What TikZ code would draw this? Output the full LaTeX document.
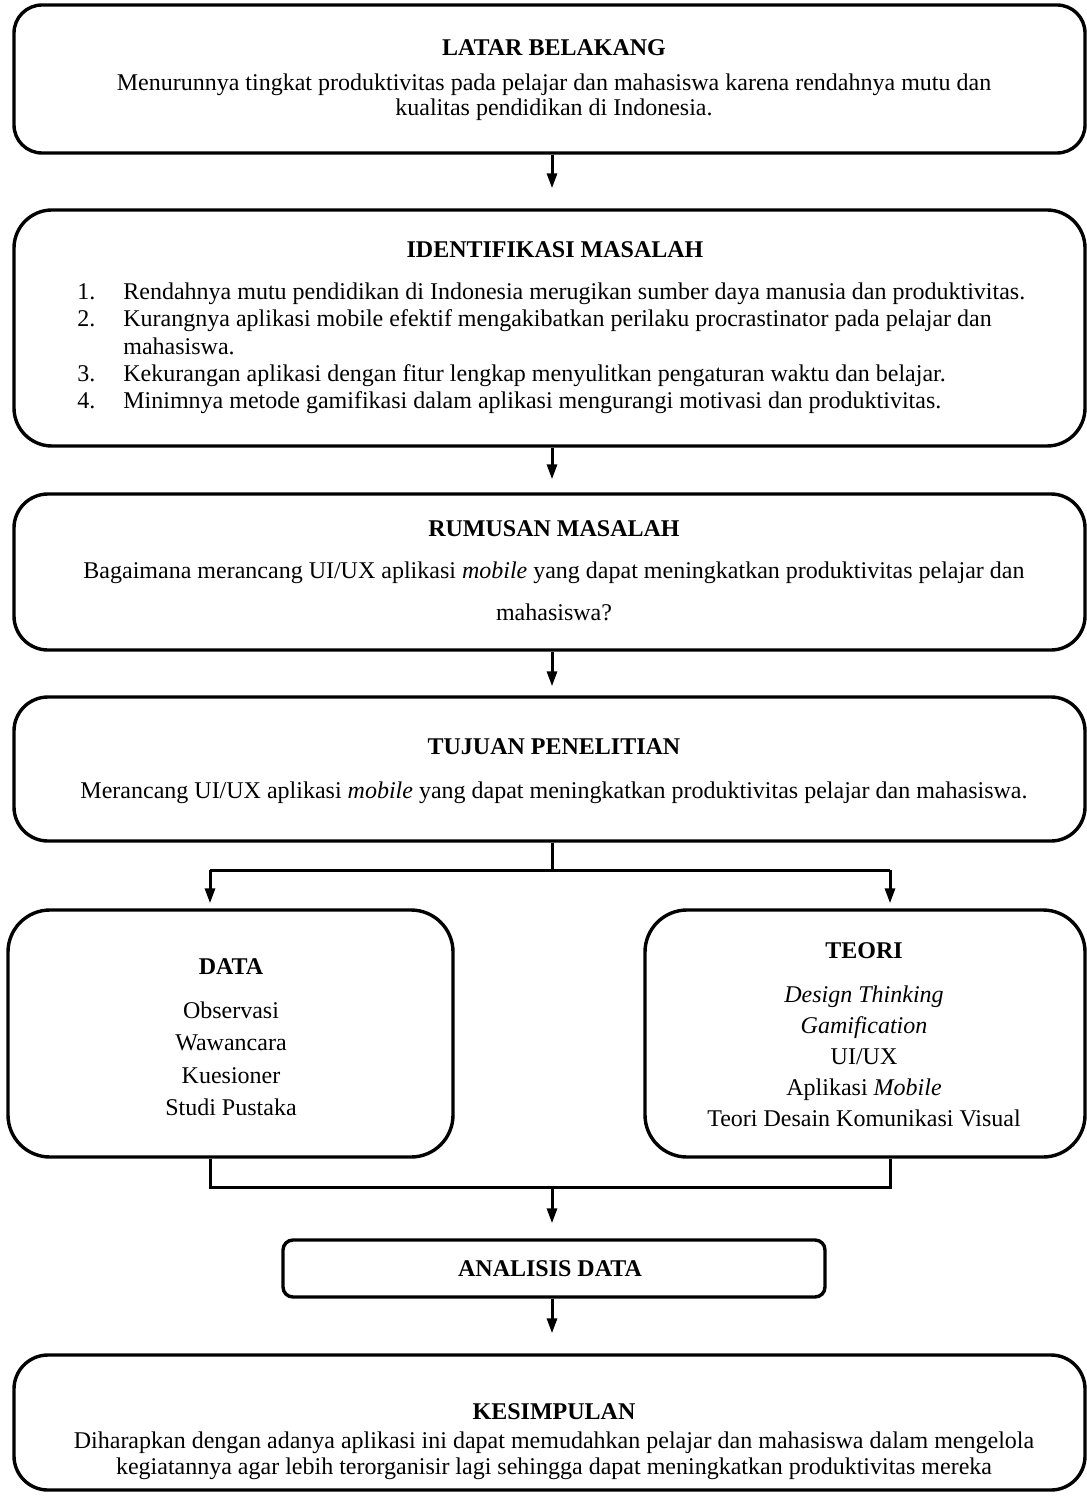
\documentclass[tikz,border=0pt]{standalone}
\usepackage{fontspec}
\setmainfont{Liberation Serif}
\usetikzlibrary{arrows.meta,positioning,fit}

\tikzset{
  box/.style={draw, line width=1.7pt, rounded corners=#1, inner sep=0pt},
  box/.default=16pt,
  txt/.style={align=center, inner sep=0pt},
  flow/.style={line width=1.5pt, -{Triangle[length=7.5pt,width=5pt]}},
  link/.style={line width=1.5pt},
}

\begin{document}
\begin{tikzpicture}[x=0.5pt,y=-0.5pt]
    \useasboundingbox (0,0) rectangle (1086,1497);
    %% boxes
    \node[box=14pt, fit={(14,5) (1085,153)}] (latar) {};
    \node[box=19pt, fit={(14,210) (1085,446)}] (ident) {};
    \node[box=17pt, fit={(14,494) (1085,650)}] (rumusan) {};
    \node[box=17pt, fit={(14,697) (1085,841)}] (tujuan) {};
    \node[box=21pt, fit={(8,910) (453,1157)}] (data) {};
    \node[box=21pt, fit={(645,910) (1085,1157)}] (teori) {};
    \node[box=5pt, fit={(283,1240) (825,1297)}] (analisis) {};
    \node[box=17pt, fit={(14,1355) (1085,1490)}] (kesimpulan) {};
    %% latar belakang
    \node[txt, font=\fontsize{12}{12.5}\selectfont] (latar-text) at (554,80)
        {\textbf{LATAR BELAKANG}\\[5pt]
         Menurunnya tingkat produktivitas pada pelajar dan mahasiswa karena rendahnya mutu dan\\
         kualitas pendidikan di Indonesia.};
    %% identifikasi masalah
    \node[inner sep=0pt, font=\fontsize{12}{12}\selectfont\bfseries] (ident-title) at (555,250) {IDENTIFIKASI MASALAH};
    \node[anchor=north west, inner sep=0pt, font=\fontsize{12}{13.65}\selectfont] (ident-list) at (77,280)
        {\begin{tabular}{@{}p{23pt}@{}l@{}}
         1. & Rendahnya mutu pendidikan di Indonesia merugikan sumber daya manusia dan produktivitas.\\
         2. & Kurangnya aplikasi mobile efektif mengakibatkan perilaku procrastinator pada pelajar dan\\
            & mahasiswa.\\
         3. & Kekurangan aplikasi dengan fitur lengkap menyulitkan pengaturan waktu dan belajar.\\
         4. & Minimnya metode gamifikasi dalam aplikasi mengurangi motivasi dan produktivitas.
         \end{tabular}};
    %% rumusan masalah
    \node[txt, font=\fontsize{12}{21}\selectfont] (rumusan-text) at (554,571)
        {\textbf{RUMUSAN MASALAH}\\
         Bagaimana merancang UI/UX aplikasi \textit{mobile} yang dapat meningkatkan produktivitas pelajar dan\\
         mahasiswa?};
    %% tujuan penelitian
    \node[txt, font=\fontsize{12}{22}\selectfont] (tujuan-text) at (554,771)
        {\textbf{TUJUAN PENELITIAN}\\
         Merancang UI/UX aplikasi \textit{mobile} yang dapat meningkatkan produktivitas pelajar dan mahasiswa.};
    %% data dan teori
    \node[txt, font=\fontsize{12}{16.25}\selectfont] (data-text) at (231,1037)
        {\textbf{DATA}\\[5.75pt]
         Observasi\\ Wawancara\\ Kuesioner\\ Studi Pustaka};
    \node[txt, font=\fontsize{12}{15.5}\selectfont] (teori-text) at (864,1035)
        {\textbf{TEORI}\\[6.5pt]
         \textit{Design Thinking}\\ \textit{Gamification}\\ UI/UX\\
         Aplikasi \textit{Mobile}\\ Teori Desain Komunikasi Visual};
    %% analisis data
    \node[inner sep=0pt, font=\fontsize{12}{12}\selectfont\bfseries] (analisis-text) at (550,1269) {ANALISIS DATA};
    %% kesimpulan
    \node[txt, font=\fontsize{12}{13}\selectfont] (kesimpulan-text) at (554,1442)
        {\textbf{KESIMPULAN}\\[1.5pt]
         Diharapkan dengan adanya aplikasi ini dapat memudahkan pelajar dan mahasiswa dalam mengelola\\
         kegiatannya agar lebih terorganisir lagi sehingga dapat meningkatkan produktivitas mereka};
    %% arrows
    \coordinate (spine) at (552,0);
    \coordinate (split) at (552,870);
    \coordinate (split-l) at (210,870);
    \coordinate (split-r) at (890,870);
    \coordinate (join) at (552,1187);
    \coordinate (join-l) at (210,1187);
    \coordinate (join-r) at (890,1187);
    \draw[flow, shorten >=10pt] (latar.south -| spine) -- (ident.north -| spine);
    \draw[flow, shorten >=6.5pt] (ident.south -| spine) -- (rumusan.north -| spine);
    \draw[flow, shorten >=4.5pt] (rumusan.south -| spine) -- (tujuan.north -| spine);
    \draw[link] (tujuan.south -| spine) -- (split);
    \draw[link] (split-l) -- (split-r);
    \draw[flow, shorten >=2.5pt] (split-l) -- (split-l |- data.north);
    \draw[flow, shorten >=2.5pt] (split-r) -- (split-r |- teori.north);
    \draw[link] (split-l |- data.south) -- (join-l) -- (join-r) -- (split-r |- teori.south);
    \draw[flow, shorten >=7.5pt] (join) -- (join |- analisis.north);
    \draw[flow, shorten >=10pt] (analisis.south -| spine) -- (kesimpulan.north -| spine);
\end{tikzpicture}
\end{document}
